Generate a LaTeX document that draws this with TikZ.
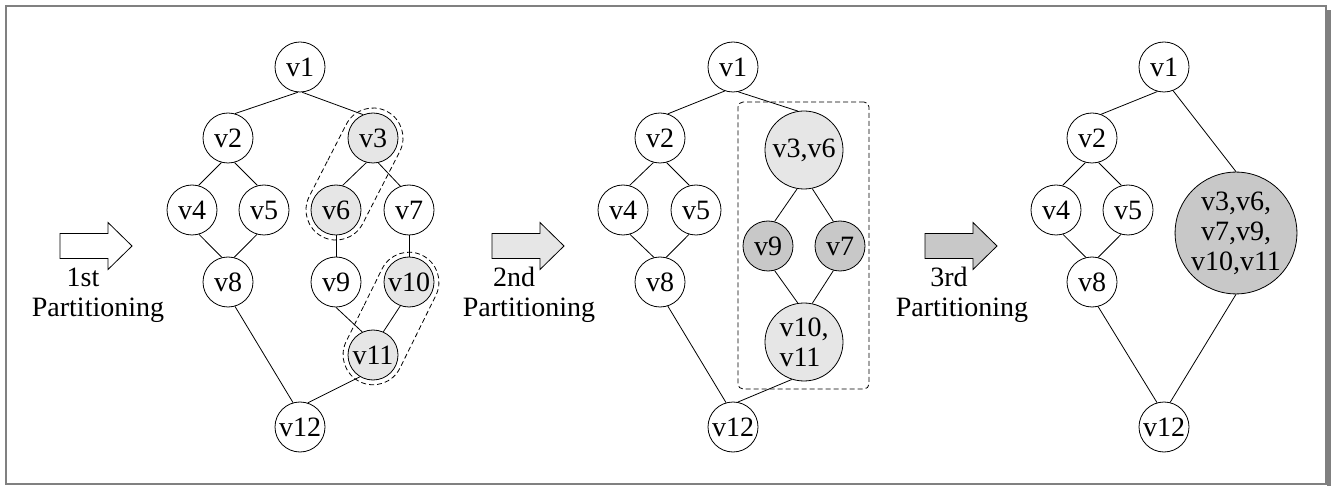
\documentclass[tikz,border=0pt]{standalone}
\usepackage{fontspec}
\setmainfont{Liberation Serif}
\usetikzlibrary{shapes.misc,calc}
\definecolor{lightfill}{HTML}{E6E6E6}
\definecolor{darkfill}{HTML}{C8C8C8}
\definecolor{framegray}{HTML}{808080}
\begin{document}
\begin{tikzpicture}[x=1pt,y=-1pt,
  vertex/.style={circle,draw,line width=0.8pt,minimum size=50pt,inner sep=0pt,
    font=\fontsize{28}{30}\selectfont},
  bigvertex/.style={vertex,minimum size=78pt},
  light/.style={fill=lightfill},
  dark/.style={fill=darkfill},
  link/.style={line width=0.8pt},
  capsule/.style={rounded rectangle,draw,dash pattern=on 5pt off 3pt,line width=0.8pt,
    inner sep=0pt,minimum height=60pt,minimum width=141pt},
  caption/.style={font=\fontsize{28}{30}\selectfont,anchor=base,inner sep=0pt},
  fatarrow/.pic={\draw[line width=0.8pt,pic actions]
    (0,-12.5) -- (48,-12.5) -- (48,-23.5) -- (72,0) -- (48,23.5) -- (48,12.5) -- (0,12.5) -- cycle;}
]
\useasboundingbox (0,0) rectangle (1331,486);

% frame with shadow
\fill[framegray] (1327,10) rectangle (1331,486);
\draw[framegray,line width=1.5pt] (6,6) rectangle (1326,484);

% ---------- step 1 ----------
\pic[fill=white] at (60,246) {fatarrow};
\node[caption] (t1a) at (83,287) {1st};
\node[caption] (t1b) at (98,317) {Partitioning};

\node[vertex] (a1) at (300,67) {v1};
\node[vertex] (a2) at (228,138) {v2};
\node[vertex,light] (a3) at (373,138) {v3};
\node[vertex] (a4) at (192,210) {v4};
\node[vertex] (a5) at (264,210) {v5};
\node[vertex,light] (a6) at (336,210) {v6};
\node[vertex] (a7) at (409,210) {v7};
\node[vertex] (a8) at (228,282) {v8};
\node[vertex] (a9) at (336,282) {v9};
\node[vertex,light] (a10) at (409,282) {v10};
\node[vertex,light] (a11) at (373,355) {v11};
\node[vertex] (a12) at (300,427) {v12};

% edges leave the lower rim of a vertex and reach the upper rim of the next
\foreach \u/\a/\w/\b in {a1/265/a2/74, a1/275/a3/113, a2/255/a4/75, a2/285/a5/105,
    a4/286/a8/104, a5/254/a8/76, a3/255/a6/75, a3/282/a7/110, a6/270/a9/90,
    a7/270/a10/90, a9/270/a11/115, a10/250/a11/66, a8/286/a12/106, a11/239/a12/72}
  \draw[link] (\u.\a) -- (\w.\b);

\node[capsule,rotate=62.8] (g1) at ($(a3)!0.5!(a6)$) {};
\node[capsule,rotate=63.7] (g2) at ($(a10)!0.5!(a11)$) {};

% ---------- step 2 ----------
\pic[fill=lightfill] at (492,246) {fatarrow};
\node[caption] (t2a) at (514,287) {2nd};
\node[caption] (t2b) at (529,317) {Partitioning};

\node[vertex] (b1) at (733,67) {v1};
\node[vertex] (b2) at (660,138) {v2};
\node[vertex] (b4) at (623,210) {v4};
\node[vertex] (b5) at (696,210) {v5};
\node[vertex] (b8) at (660,282) {v8};
\node[vertex] (b12) at (733,427) {v12};
\node[bigvertex,light] (b36) at (804,150) {v3,v6};
\node[vertex,dark] (b9) at (768,246) {v9};
\node[vertex,dark] (b7) at (840,246) {v7};
\node[bigvertex,light,align=left] (b1011) at (804,342) {v10,\\v11};

\foreach \u/\a/\w/\b in {b1/251/b2/72, b1/282/b36/99, b2/255/b4/75, b2/285/b5/105,
    b4/286/b8/104, b5/254/b8/76, b8/288/b12/106, b36/260/b9/75, b36/282/b7/105,
    b9/285/b1011/99, b7/255/b1011/78, b1011/252/b12/79}
  \draw[link] (\u.\a) -- (\w.\b);

\node[draw,dash pattern=on 5pt off 3pt,line width=0.8pt,rounded corners=5pt,
  minimum width=131pt,minimum height=287pt,inner sep=0pt] (g3) at (803.5,245.5) {};

% ---------- step 3 ----------
\pic[fill=darkfill] at (925,246) {fatarrow};
\node[caption] (t3a) at (949,287) {3rd};
\node[caption] (t3b) at (962,317) {Partitioning};

\node[vertex] (c1) at (1164,67) {v1};
\node[vertex] (c2) at (1092,138) {v2};
\node[vertex] (c4) at (1056,210) {v4};
\node[vertex] (c5) at (1128,210) {v5};
\node[vertex] (c8) at (1092,282) {v8};
\node[vertex] (c12) at (1164,427) {v12};
\node[vertex,dark,minimum size=118pt,align=center] (cbig) at (1236,233)
  {v3,v6,\\v7,v9,\\v10,v11};

\foreach \u/\a/\w/\b in {c1/255/c2/69, c1/291/cbig/90, c2/255/c4/75, c2/285/c5/105,
    c4/286/c8/104, c5/254/c8/76, c8/284/c12/106, cbig/270/c12/76}
  \draw[link] (\u.\a) -- (\w.\b);
\end{tikzpicture}
\end{document}
